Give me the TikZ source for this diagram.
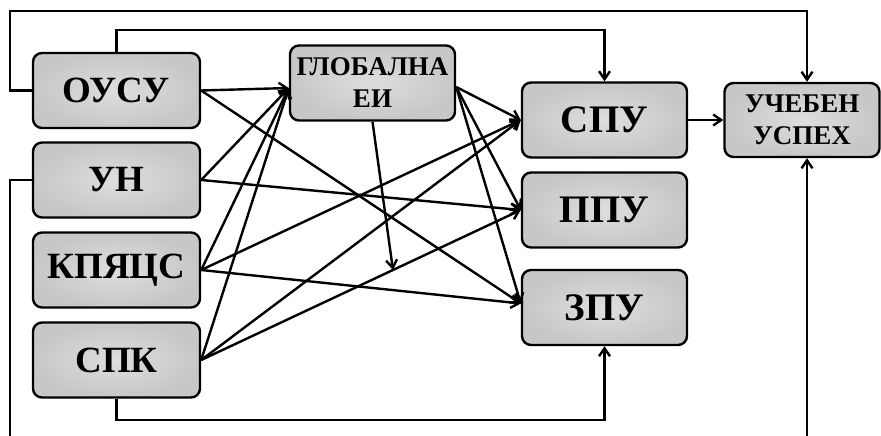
\documentclass[tikz,border=0pt]{standalone}
\usepackage{fontspec}
\setmainfont{Liberation Serif}
\usetikzlibrary{arrows.meta}

\tikzset{
  box/.style={draw, rounded corners=9pt, inner color=black!13, outer color=black!22,
    minimum width=167pt, minimum height=75pt, inner sep=0pt, align=center,
    font=\bfseries\fontsize{37}{39}\selectfont},
  bigbox/.style={box, font=\bfseries\fontsize{39}{41}\selectfont},
  twoline/.style={box, font=\bfseries\fontsize{27}{32}\selectfont}
}

\begin{document}
\begin{tikzpicture}[x=1pt, y=-1pt, line width=2.4pt,
  >={Straight Barb[length=8pt,width=11pt]}]
  \useasboundingbox (0,0) rectangle (881,436);
  \clip (0,0) rectangle (881,436);
  % Left column
  \node[box] (ousu) at (116.5,90.5) {ОУСУ};
  \node[box] (un) at (116.5,180) {УН};
  \node[box] (kpyacs) at (116.5,270) {КПЯЦС};
  \node[box] (spk) at (116.5,360) {СПК};
  % Middle
  \node[twoline, minimum width=165pt] (glob) at (372.5,83) {ГЛОБАЛНА\\ЕИ};
  % Right column
  \node[bigbox, minimum width=165pt] (spu) at (604.5,120) {СПУ};
  \node[bigbox, minimum width=165pt] (ppu) at (604.5,210) {ППУ};
  \node[bigbox, minimum width=165pt] (zpu) at (604.5,307.5) {ЗПУ};
  \node[twoline, minimum width=155pt, minimum height=74pt] (uspeh) at (802,120) {УЧЕБЕН\\УСПЕХ};
  % Into the middle box
  \draw[->] (ousu.east) -- ([yshift=-5pt]glob.west);
  \draw[->] (un.east) -- ([yshift=-5pt]glob.west);
  \draw[->] (kpyacs.east) -- ([yshift=-5pt]glob.west);
  \draw[->] (spk.east) -- ([yshift=-5pt]glob.west);
  % Direct paths
  \draw[->] (ousu.east) -- ([yshift=4pt]zpu.west);
  \draw[->] (un.east) -- (ppu.west);
  \draw[->] (kpyacs.east) -- (spu.west);
  \draw[->] (kpyacs.east) -- ([yshift=4pt]zpu.west);
  \draw[->] (spk.east) -- (spu.west);
  \draw[->] (spk.east) -- coordinate[pos=0.6] (mod) (ppu.west);
  % Out of the middle box
  \draw[->] ([yshift=-4pt]glob.east) -- (spu.west);
  \draw[->] ([yshift=-4pt]glob.east) -- (ppu.west);
  \draw[->] ([yshift=-4pt]glob.east) -- ([yshift=4pt]zpu.west);
  \draw[->] (glob.south) -- (mod);
  \draw[->] (spu.east) -- (uspeh.west);
  % Outer lines
  \draw[->] (ousu.west) -| (10,11) -| ([xshift=5pt]uspeh.north);
  \draw[->] (ousu.north) |- (300,30) -| (spu.north);
  \draw[->] (un.west) -| (10,460) -| ([xshift=5pt]uspeh.south);
  \draw[->] (spk.south) |- (300,420) -| (zpu.south);
\end{tikzpicture}
\end{document}
